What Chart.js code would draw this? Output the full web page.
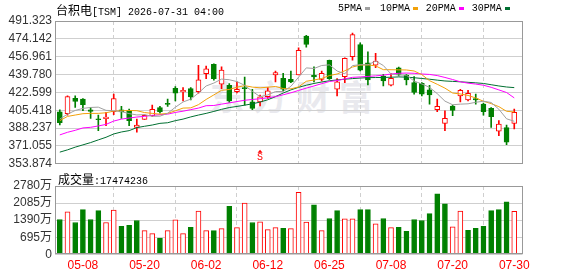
<!DOCTYPE html>
<html><head><meta charset="utf-8">
<script src="https://cdn.jsdelivr.net/npm/chart.js@4.4.1/dist/chart.umd.min.js"></script>
<style>
html,body{margin:0;padding:0;background:#fff;}
#wrap{position:relative;width:578px;height:276px;overflow:hidden;background:#fff;}
canvas{position:absolute;left:0;z-index:1;}
.t{position:absolute;white-space:nowrap;color:#000;line-height:14px;z-index:2;}
.cjk{font:12px "Noto Sans CJK SC",sans-serif;}
.mono{font:10px "Liberation Mono","DejaVu Sans Mono",monospace;}
.mk{position:absolute;width:5px;height:3px;z-index:2;}
#wm{position:absolute;left:210px;top:76px;font:bold 34px/40px "Noto Sans CJK SC",sans-serif;color:#e9e9ee;letter-spacing:9px;z-index:0;white-space:nowrap;}
</style></head><body>
<div id="wrap">
<div id="wm">东方财富</div>
<canvas id="kc" width="578" height="174" style="top:0"></canvas>
<canvas id="vc" width="578" height="106" style="top:170px"></canvas>
<div class="t" style="left:56px;top:1px"><span class="cjk">台积电</span><span class="mono">[TSM] 2026-07-31 04:00</span></div>
<div id="legend"></div>
<div class="t" id="volTitle" style="left:58px;top:170px"></div>
</div>
<script>
// ---------------- DATA ----------------
const dates = ['05-05','05-06','05-07','05-08','05-11','05-12','05-13','05-14','05-15','05-18',
 '05-19','05-20','05-21','05-22','05-26','05-27','05-28','05-29','06-01','06-02',
 '06-03','06-04','06-05','06-08','06-09','06-10','06-11','06-12','06-15','06-16',
 '06-17','06-18','06-22','06-23','06-24','06-25','06-26','06-29','06-30','07-01',
 '07-02','07-06','07-07','07-08','07-09','07-10','07-13','07-14','07-15','07-16',
 '07-17','07-20','07-21','07-22','07-23','07-24','07-27','07-28','07-29','07-30'];
const openP = [403.97,402.06,417.0,416.1,405.9,397.0,397.3,403.97,405.9,405.3,
 389.0,396.6,400.1,408.1,411.6,426.6,423.1,426.3,423.4,440.6,
 449.6,430.4,429.5,423.4,427.2,413.5,413.5,418.6,439.4,436.2,
 435.2,439.4,476.7,439.0,435.2,453.4,425.6,437.8,456.9,468.7,
 451.1,448.9,438.4,429.5,446.3,439.0,432.0,431.4,425.0,405.9,
 392.8,409.5,419.3,415.4,416.7,411.3,407.2,385.2,388.7,392.8];
const highP = [405.9,419.3,419.3,416.7,408.1,400.8,403.3,420.9,409.1,406.5,
 397.0,401.1,410.3,409.1,416.1,428.2,427.3,427.3,448.6,447.9,
 450.2,447.3,431.1,432.7,437.4,425.6,419.9,427.3,443.2,441.0,
 443.2,465.5,477.6,447.3,443.2,453.7,435.8,455.9,479.8,470.3,
 461.7,460.1,440.0,441.0,447.0,440.0,437.8,432.0,429.5,416.1,
 404.9,410.3,425.6,424.7,420.9,412.2,408.1,395.4,391.2,406.5];
const lowP = [391.2,400.8,408.1,404.9,397.6,385.8,390.6,401.1,397.6,390.6,
 384.2,396.6,399.5,402.7,409.1,414.5,414.5,415.4,421.8,435.8,
 434.3,426.3,412.9,422.2,410.3,405.9,409.7,416.7,432.7,424.1,
 432.0,439.4,466.1,432.7,433.6,435.2,419.3,432.0,453.7,443.2,
 429.8,446.3,428.8,428.8,438.4,429.8,420.9,419.3,411.3,403.97,
 385.8,400.1,413.5,414.5,411.3,400.8,389.0,381.0,372.4,387.4];
const closeP = [393.45,418.6,413.8,410.7,404.3,396.3,398.9,416.7,403.7,395.4,
 391.2,400.5,406.2,404.0,411.0,421.8,424.7,418.3,434.6,445.4,
 435.8,444.1,414.5,425.6,426.3,407.2,418.3,424.1,441.6,425.6,
 432.7,463.0,468.7,437.4,441.0,435.8,432.7,455.3,478.2,444.1,
 434.6,452.7,433.6,436.2,440.0,434.6,422.5,420.9,420.2,409.1,
 397.6,405.3,424.7,421.8,415.4,403.97,399.2,392.2,374.6,403.3];
const ma5 = [396.9,401.7,405.2,407.2,408.1,408.4,405.3,405.0,404.1,402.2,
 400.9,401.2,399.6,399.7,402.5,408.3,413.4,416.1,422.0,428.8,
 431.6,435.4,434.8,433.0,429.4,423.6,418.5,420.2,423.4,423.5,
 428.4,437.3,446.2,445.6,448.5,449.1,443.2,440.5,448.4,449.3,
 449.1,452.8,448.5,440.3,439.3,439.2,433.5,430.7,427.5,421.4,
 414.2,410.7,411.3,411.6,413.1,414.1,412.9,406.4,397.2,394.8];
const ma10 = [395.4,399.5,400.8,402.1,402.4,402.4,403.0,404.6,404.9,405.2,
 405.0,403.2,402.4,401.7,402.4,404.9,407.5,407.7,410.8,415.8,
 420.2,424.6,425.4,427.6,429.1,427.7,427.0,427.6,428.3,426.3,
 426.0,427.9,433.3,434.5,436.0,438.8,440.3,443.4,447.0,448.9,
 449.1,448.1,444.5,444.4,444.3,444.2,443.2,439.7,433.9,430.4,
 426.7,422.0,421.1,419.7,417.2,414.1,411.8,408.9,404.4,403.8];
const ma20 = [381.7,384.2,386.1,388.4,389.0,390.3,391.8,395.0,396.9,397.9,
 398.9,399.5,400.5,401.1,401.7,403.3,404.5,406.0,407.5,409.8,
 410.0,411.3,412.5,413.8,415.0,415.8,416.5,417.4,418.5,420.3,
 422.2,424.5,426.7,428.8,431.0,433.1,434.0,435.6,437.1,437.5,
 438.0,438.5,439.2,440.3,441.0,441.2,441.0,440.3,439.9,438.8,
 437.0,435.0,432.8,431.5,430.6,429.5,427.5,425.0,422.5,417.3];
const ma30 = [365.1,367.3,369.9,372.1,374.3,376.9,379.4,382.6,384.5,385.8,
 388.7,390.0,391.2,392.8,393.4,395.4,396.9,399.0,400.8,402.4,
 404.3,406.3,408.0,409.1,410.3,411.6,413.3,415.5,418.5,422.0,
 425.0,427.5,429.5,431.2,432.6,433.8,434.6,435.3,435.9,436.4,
 436.8,436.9,437.0,437.2,437.5,437.3,436.7,436.0,435.3,434.4,
 433.6,433.2,432.8,432.3,431.8,431.2,430.0,428.8,427.8,427.2];
// volume in 万 (10k shares)
const volume = [1417,1724,1296,1818,1417,1778,1296,1804,1136,1176,
 1377,962,842,655,962,1403,842,1096,1764,962,
 962,1042,1951,1083,2085,1296,1323,1002,1083,1056,
 1042,2526,1310,2018,962,1457,1778,1443,1443,1818,
 1818,1243,1457,1083,1096,936,1417,1377,1657,2459,
 2058,1123,1764,976,1056,1136,1778,1818,2138,1747.4236];
// 1 = rise vs previous day, 0 = fall
const volUp = [0,1,0,0,0,0,1,1,0,0, 0,1,1,0,1,1,1,0,1,1, 0,1,0,1,1,0,1,1,1,0,
 1,1,1,0,1,0,0,1,1,0, 0,1,0,1,0,0,0,0,0,0, 0,1,1,0,0,0,0,0,0,1];
const priceTicks = [353.874,371.055,388.237,405.418,422.599,439.780,456.961,474.142,491.323];
const volTicks = [0,695,1390,2085,2780];
const dateTicks = ['05-08','05-20','06-02','06-12','06-25','07-08','07-20','07-30'];
const maNames = ['5PMA','10PMA','20PMA','30PMA'];
const signalDate = '06-11', signalText = 'S';
const lastVolume = '17474236';

// ---------------- STYLE ----------------
const RED = '#ff0000', GREEN = '#008000';
const maColors = ['#a0a0a0','#f2a10a','#ff00ff','#006f31'];
const GRID = '#cfcfcf', FRAME = '#999999';
const FONT = '"Liberation Sans", Arial, "Noto Sans CJK SC", sans-serif';
const xMin = -0.624, xMax = 60.07;
const tickIdx = dateTicks.map(d => dates.indexOf(d));

// legend & labels (HTML text)
const legendPos = [[338,365],[380,413],[425.7,459.3],[471.7,505.3]];
const lg = document.getElementById('legend');
maNames.forEach((n, k) => {
  const t = document.createElement('div');
  t.className = 't mono'; t.style.left = legendPos[k][0] + 'px'; t.style.top = '2px';
  t.style.font = '10px "Liberation Mono","DejaVu Sans Mono",monospace'; t.style.lineHeight = '14px';
  t.textContent = n; lg.appendChild(t);
  const m = document.createElement('div');
  m.className = 'mk'; m.style.left = legendPos[k][1] + 'px'; m.style.top = '7px';
  m.style.background = maColors[k]; lg.appendChild(m);
});
document.getElementById('volTitle').innerHTML = '<span class="cjk">成交量</span><span class="mono">:' + lastVolume + '</span>';

const frame = {
  id: 'frame',
  afterDraw(chart) {
    const a = chart.chartArea, c = chart.ctx;
    c.save(); c.strokeStyle = FRAME; c.lineWidth = 1;
    c.strokeRect(Math.round(a.left) + 0.5, Math.round(a.top) + 0.5,
                 Math.round(a.right - a.left) - 1, Math.round(a.bottom - a.top) - 1);
    c.restore();
  }
};
const signal = {
  id: 'signal',
  afterDatasetsDraw(chart) {
    const x = chart.scales.x.getPixelForValue(dates.indexOf(signalDate));
    const yb = chart.chartArea.bottom;
    const c = chart.ctx;
    c.save(); c.fillStyle = RED; c.strokeStyle = RED;
    c.beginPath(); c.moveTo(x, yb - 14); c.lineTo(x - 2.5, yb - 11); c.lineTo(x + 2.5, yb - 11); c.closePath(); c.fill();
    c.font = '10px "Liberation Mono", monospace'; c.textAlign = 'center'; c.textBaseline = 'top';
    c.fillText(signalText, x, yb - 11);
    c.restore();
  }
};

const isUp = i => closeP[i] > openP[i];
const xScaleBase = (showLabels) => ({
  type: 'linear', min: xMin, max: xMax, offset: false,
  afterBuildTicks: s => { s.ticks = tickIdx.map(v => ({ value: v })); },
  grid: { color: GRID, lineWidth: 1, drawTicks: false },
  border: { display: false, dash: [4, 3] },
  ticks: { display: showLabels, autoSkip: false, maxRotation: 0, padding: 4,
           color: RED, font: { family: FONT, size: 12 },
           callback: v => dates[v] }
});

new Chart(document.getElementById('kc'), {
  type: 'bar',
  data: {
    datasets: [
      ...maNames.map((n, k) => ({
        type: 'line', label: n, order: 0,
        data: [ma5, ma10, ma20, ma30][k].map((v, i) => ({ x: i, y: v })),
        borderColor: maColors[k], borderWidth: 1, pointRadius: 0, tension: 0, fill: false
      })),
      { type: 'bar', label: 'body', order: 1, grouped: false,
        data: dates.map((d, i) => ({ x: i, y: [openP[i], closeP[i]] })),
        backgroundColor: dates.map((d, i) => isUp(i) ? '#ffffff' : GREEN),
        borderColor: dates.map((d, i) => isUp(i) ? RED : GREEN),
        borderWidth: 1, borderSkipped: false, barThickness: 5, minBarLength: 1 },
      { type: 'bar', label: 'wick', order: 2, grouped: false,
        data: dates.map((d, i) => ({ x: i, y: [lowP[i], highP[i]] })),
        backgroundColor: dates.map((d, i) => isUp(i) ? RED : GREEN),
        borderWidth: 0, barThickness: 1 }
    ]
  },
  options: {
    responsive: false, animation: false, devicePixelRatio: 1,
    layout: { autoPadding: false, padding: { left: 0, right: 55.5, top: 21, bottom: 0 } },
    plugins: { legend: { display: false }, tooltip: { enabled: false } },
    scales: {
      x: Object.assign(xScaleBase(false), { afterFit: s => { s.height = 8; } }),
      y: {
        type: 'linear', min: priceTicks[0], max: priceTicks[priceTicks.length - 1],
        afterBuildTicks: s => { s.ticks = priceTicks.map(v => ({ value: v })); },
        afterFit: s => { s.width = 55; },
        grid: { color: GRID, lineWidth: 1, drawTicks: false },
        border: { display: false },
        ticks: { autoSkip: false, padding: 3, color: '#333', font: { family: FONT, size: 12 },
                 callback: v => v.toFixed(3) }
      }
    }
  },
  plugins: [frame, signal]
});

new Chart(document.getElementById('vc'), {
  type: 'bar',
  data: {
    datasets: [{
      label: 'volume', grouped: false,
      data: volume.map((v, i) => ({ x: i, y: v })),
      backgroundColor: volUp.map(u => u ? '#ffffff' : GREEN),
      borderColor: volUp.map(u => u ? RED : GREEN),
      borderWidth: 1, borderSkipped: false, barThickness: 5
    }]
  },
  options: {
    responsive: false, animation: false, devicePixelRatio: 1,
    layout: { autoPadding: false, padding: { left: 0, right: 55.5, top: 16, bottom: 0 } },
    plugins: { legend: { display: false }, tooltip: { enabled: false } },
    scales: {
      x: Object.assign(xScaleBase(true), { afterFit: s => { s.height = 21.7; } }),
      y: {
        type: 'linear', min: 0, max: volTicks[volTicks.length - 1],
        afterBuildTicks: s => { s.ticks = volTicks.map(v => ({ value: v })); },
        afterFit: s => { s.width = 55; },
        grid: { color: GRID, lineWidth: 1, drawTicks: false },
        border: { display: false },
        ticks: { autoSkip: false, padding: 3, color: '#333', font: { family: FONT, size: 12 },
                 callback: v => v === 0 ? '0' : v + '万' }
      }
    }
  },
  plugins: [frame]
});
</script>
</body></html>
